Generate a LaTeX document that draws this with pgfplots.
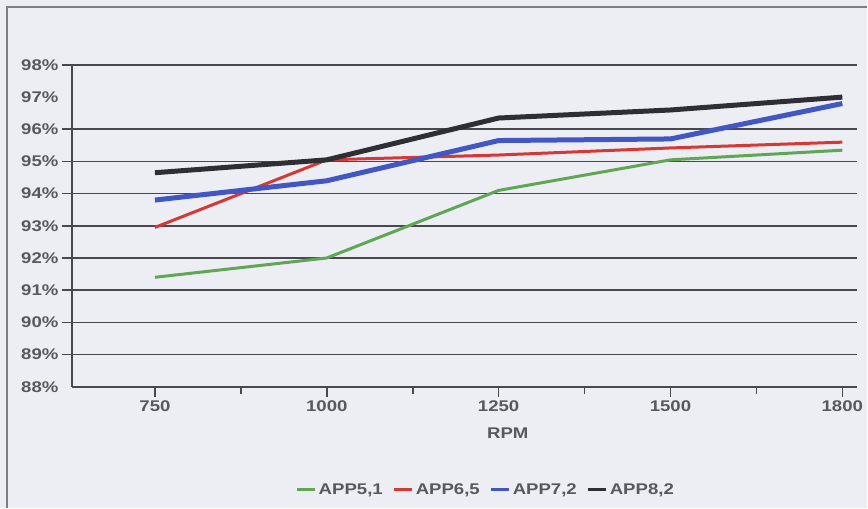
\documentclass[border=0pt]{standalone}
\usepackage{fontspec}
\setmainfont[FakeStretch=1.2]{Liberation Sans}
\usepackage{pgfplots}
\pgfplotsset{compat=1.18}
\definecolor{bgscan}{RGB}{236,238,243}
\definecolor{framegray}{RGB}{125,125,132}
\definecolor{gridgray}{RGB}{72,72,78}
\definecolor{labelgray}{RGB}{88,88,94}
\definecolor{appgreen}{RGB}{96,166,86}
\definecolor{appred}{RGB}{214,56,56}
\definecolor{appblue}{RGB}{66,86,196}
\definecolor{appblack}{RGB}{46,46,52}
\newcommand{\lblfont}{\fontsize{15.5}{18}\selectfont\bfseries}

\begin{document}
\begin{tikzpicture}
\fill[bgscan] (0pt,0pt) rectangle (868pt,508pt);
\draw[framegray, line width=1.5pt] (7pt,0pt) -- (7pt,501pt) -- (868pt,501pt);
\begin{axis}[
    at={(72pt,121pt)}, anchor=south west,
    scale only axis, width=786pt, height=322pt,
    xmin=-0.483, xmax=4.087, ymin=88, ymax=98,
    axis x line*=bottom, axis y line*=left,
    axis line style={gridgray, line width=1.8pt, -},
    xtick={0,...,4},
    xticklabels={750,1000,1250,1500,1800},
    minor xtick={0.5,1.5,2.5,3.5},
    ytick={89,90,91,92,93,94,95,96,98},
    yticklabels={89\%,90\%,91\%,92\%,93\%,94\%,95\%,96\%,98\%},
    extra y ticks={88,97},
    extra y tick labels={88\%,97\%},
    extra y tick style={grid=none, major tick style={draw=none}},
    ymajorgrids,
    major grid style={gridgray, line width=1.6pt},
    tick align=outside,
    major tick length=10pt, minor tick length=7pt,
    tick style={gridgray, line width=1.6pt},
    ticklabel style={font=\lblfont, text=labelgray},
    xlabel={RPM},
    xlabel style={at={(axis description cs:0.555,0)}, anchor=north,
        inner sep=0pt, yshift=-41pt, font=\lblfont, text=labelgray},
    legend style={at={(axis description cs:0.527,-0.32)}, anchor=center,
        draw=none, fill=none, legend columns=-1, font=\lblfont, text=labelgray,
        /tikz/every even column/.append style={column sep=8pt}},
    legend image code/.code={\draw[#1, line width=3pt] (0pt,0pt) -- (18pt,0pt);},
]
\addplot[appgreen, line width=3pt, line join=round, no markers]
    coordinates {(0,91.4) (1,92.0) (2,94.1) (3,95.05) (4,95.35)};
\addlegendentry{{APP5,1}}
\addplot[appred, line width=3pt, line join=round, no markers]
    coordinates {(0,92.95) (1,95.05) (2,95.2) (3,95.42) (4,95.6)};
\addlegendentry{{APP6,5}}
\addplot[appblue, line width=5pt, line join=round, no markers]
    coordinates {(0,93.8) (1,94.4) (2,95.65) (3,95.7) (4,96.8)};
\addlegendentry{{APP7,2}}
\addplot[appblack, line width=5pt, line join=round, no markers]
    coordinates {(0,94.65) (1,95.05) (2,96.35) (3,96.6) (4,97.0)};
\addlegendentry{{APP8,2}}
\end{axis}
\end{tikzpicture}
\end{document}
